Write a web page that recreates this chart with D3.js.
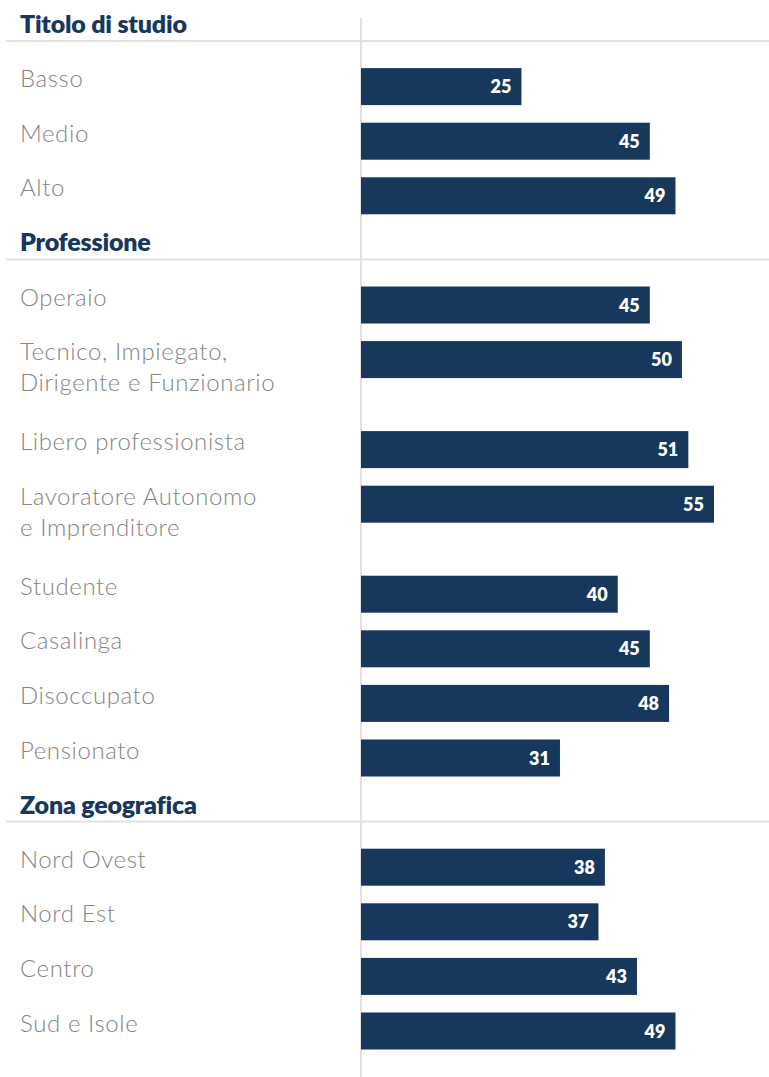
<!DOCTYPE html>
<html>
<head>
<meta charset="utf-8">
<script src="https://cdn.jsdelivr.net/npm/d3@7"></script>
<style>
  html, body { margin: 0; padding: 0; background: #ffffff; }
  svg { display: block; }
</style>
</head>
<body>
<script>
// Section titles
const groups = ["Titolo di studio", "Professione", "Zona geografica"];

// Row labels ("\n" splits a label over two lines)
const categories = [
  "Basso", "Medio", "Alto",
  "Operaio", "Tecnico, Impiegato,\nDirigente e Funzionario", "Libero professionista",
  "Lavoratore Autonomo\ne Imprenditore", "Studente", "Casalinga", "Disoccupato", "Pensionato",
  "Nord Ovest", "Nord Est", "Centro", "Sud e Isole"
];

// Section index of each row
const categoryGroup = [0, 0, 0, 1, 1, 1, 1, 1, 1, 1, 1, 2, 2, 2, 2];

// Percentages
const values = [25, 45, 49, 45, 50, 51, 55, 40, 45, 48, 31, 38, 37, 43, 49];

const W = 769, H = 1077;
const NAVY = "#17375d";
const GRID = "#e1e1e1";
const LABEL = "#858585";

const ROW = 54.6, ROW2 = 90, BAR_H = 37;
const X0 = 361;

const svg = d3.select("body").append("svg")
  .attr("width", W).attr("height", H);

const x = d3.scaleLinear().domain([0, 55]).range([X0, 714]);

// Build the vertical layout: a header slot before each section, then its rows
const rows = [];
let cursor = 13.5;
categories.forEach((c, i) => {
  if (i === 0 || categoryGroup[i] !== categoryGroup[i - 1]) {
    rows.push({ type: "header", text: groups[categoryGroup[i]], y: cursor });
    cursor += ROW;
  }
  const lines = c.split("\n");
  rows.push({ type: "row", lines, value: values[i], y: cursor });
  cursor += lines.length > 1 ? ROW2 : ROW;
});

// Baseline axis line
svg.append("line")
  .attr("x1", X0).attr("x2", X0)
  .attr("y1", 18).attr("y2", H)
  .attr("stroke", GRID).attr("stroke-width", 2);

const headers = rows.filter(r => r.type === "header");
const items = rows.filter(r => r.type === "row");

// Section headers with rule underneath
const hg = svg.selectAll("g.header").data(headers).enter().append("g").attr("class", "header");
hg.append("line")
  .attr("x1", 6).attr("x2", W)
  .attr("y1", d => d.y + 27.5).attr("y2", d => d.y + 27.5)
  .attr("stroke", GRID).attr("stroke-width", 2);
hg.append("text")
  .attr("x", 20).attr("y", d => d.y + 19.5)
  .attr("fill", NAVY)
  .style("font-family", "Lato, 'Open Sans', sans-serif")
  .style("font-weight", 800)
  .style("font-size", "25px")
  .style("letter-spacing", "-0.2px")
  .text(d => d.text);

// Row labels
const rg = svg.selectAll("g.row").data(items).enter().append("g").attr("class", "row");
rg.append("text")
  .attr("x", 20).attr("y", d => d.y + 19)
  .attr("fill", LABEL)
  .style("font-family", "Lato, 'Open Sans', sans-serif")
  .style("font-weight", 300)
  .style("font-size", "24px")
  .style("letter-spacing", "0.6px")
  .selectAll("tspan").data(d => d.lines).enter().append("tspan")
  .attr("x", 20)
  .attr("dy", (d, i) => i === 0 ? 0 : 31)
  .text(d => d);

// Bars
rg.append("rect")
  .attr("x", X0)
  .attr("y", d => d.y)
  .attr("width", d => x(d.value) - X0)
  .attr("height", BAR_H)
  .attr("fill", NAVY);

// Value labels inside bars
rg.append("text")
  .attr("x", d => x(d.value) - 10)
  .attr("y", d => d.y + BAR_H / 2 + 6.5)
  .attr("text-anchor", "end")
  .attr("fill", "#ffffff")
  .style("font-family", "Lato, 'Open Sans', sans-serif")
  .style("font-weight", 800)
  .style("font-size", "18px")
  .text(d => d.value);
</script>
</body>
</html>
